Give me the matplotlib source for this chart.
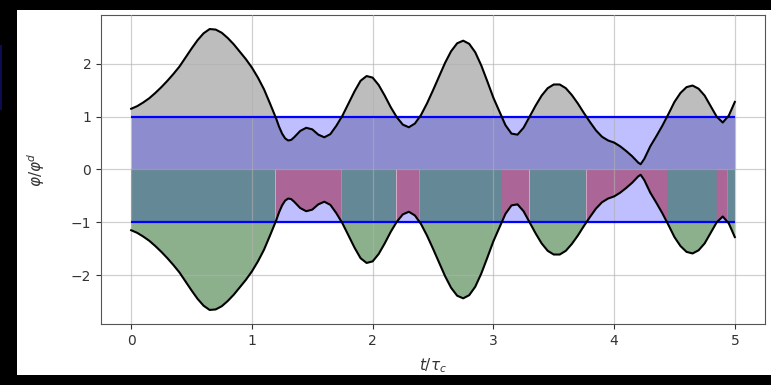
import numpy as np
import matplotlib
matplotlib.use("Agg")
import matplotlib.pyplot as plt
from matplotlib.patches import Rectangle

# ---- data ----
t = [0.00, 0.05, 0.10, 0.15, 0.20, 0.25, 0.30, 0.35, 0.40, 0.45,
     0.50, 0.55, 0.60, 0.65, 0.70, 0.75, 0.80, 0.85, 0.90, 0.95,
     1.00, 1.05, 1.10, 1.15, 1.20, 1.225, 1.25, 1.275, 1.30, 1.325,
     1.35, 1.40, 1.45,
     1.50, 1.55, 1.60, 1.65, 1.70, 1.75, 1.80, 1.85, 1.90, 1.95,
     2.00, 2.05, 2.10, 2.15, 2.20, 2.25, 2.30, 2.35, 2.40, 2.45,
     2.50, 2.55, 2.60, 2.65, 2.70, 2.75, 2.80, 2.85, 2.90, 2.95,
     3.00, 3.05, 3.10, 3.15, 3.20, 3.25, 3.30, 3.35, 3.40, 3.45,
     3.50, 3.55, 3.60, 3.65, 3.70, 3.75, 3.80, 3.85, 3.90, 3.95,
     4.00, 4.05, 4.10, 4.15, 4.20, 4.22, 4.25, 4.30, 4.35, 4.40,
     4.45, 4.50, 4.55, 4.60, 4.65, 4.70, 4.75, 4.80, 4.85, 4.90,
     4.95, 5.00]
phi = [1.15, 1.20, 1.27, 1.35, 1.45, 1.56, 1.68, 1.81, 1.95, 2.12,
       2.29, 2.45, 2.58, 2.66, 2.65, 2.59, 2.49, 2.37, 2.23, 2.09,
       1.93, 1.74, 1.52, 1.25, 0.97, 0.81, 0.68, 0.59, 0.55, 0.56,
       0.61, 0.73, 0.79,
       0.76, 0.66, 0.61, 0.67, 0.83, 1.02, 1.25, 1.48, 1.68, 1.77,
       1.74, 1.60, 1.40, 1.18, 0.99, 0.85, 0.80, 0.87, 1.03, 1.25,
       1.50, 1.76, 2.02, 2.24, 2.39, 2.44, 2.38, 2.22, 1.97, 1.67,
       1.36, 1.10, 0.84, 0.68, 0.66, 0.79, 1.00, 1.21, 1.40, 1.54,
       1.61, 1.61, 1.54, 1.41, 1.25, 1.07, 0.90, 0.74, 0.62, 0.55,
       0.51, 0.44, 0.35, 0.25, 0.13, 0.10, 0.20, 0.44, 0.63, 0.83,
       1.05, 1.28, 1.45, 1.56, 1.59, 1.53, 1.40, 1.20, 1.00, 0.89,
       1.02, 1.28]
threshold = 1.0
x_ticks = [0, 1, 2, 3, 4, 5]
y_ticks = [-2, -1, 0, 1, 2]

# ---- colours ----
c_gray = '#bdbdbd'
c_dark = '#8c8cce'
c_lav = '#bfbfff'
c_teal = '#658896'
c_green = '#8db08c'
c_mag = '#ab6697'

# insert exact threshold crossings so region edges are sharp
ta, pa = [t[0]], [phi[0]]
for i in range(1, len(t)):
    p0, p1 = phi[i - 1] - threshold, phi[i] - threshold
    if p0 * p1 < 0:
        tc = t[i - 1] + (-p0) * (t[i] - t[i - 1]) / (p1 - p0)
        ta.append(tc)
        pa.append(threshold)
    ta.append(t[i])
    pa.append(phi[i])
ta = np.array(ta)
pa = np.array(pa)
above = pa >= threshold
below = pa <= threshold

fig = plt.figure(figsize=(7.71, 3.85), dpi=100)
fig.patch.set_facecolor('black')
fig.patches.append(Rectangle((17 / 771, 10 / 385), 1 - 17 / 771, (375 - 10) / 385,
                             transform=fig.transFigure, facecolor='white',
                             edgecolor='none', zorder=-10))
fig.patches.append(Rectangle((0, (385 - 110) / 385), 2 / 771, 65 / 385,
                             transform=fig.transFigure, facecolor='#0c0c55',
                             edgecolor='none', zorder=-10))

ax = fig.add_axes([101 / 771, 1 - 324 / 385, (765 - 101) / 771, (324 - 15) / 385])
ax.set_facecolor('white')

pm = np.minimum(pa, threshold)
ax.fill_between(ta, threshold, pa, where=above, color=c_gray, lw=0, zorder=1)
ax.fill_between(ta, 0, pm, color=c_dark, lw=0, zorder=1)
ax.fill_between(ta, pm, threshold, color=c_lav, lw=0, zorder=1)
ax.fill_between(ta, -threshold, 0, where=above, color=c_teal, lw=0, zorder=1)
ax.fill_between(ta, -pa, -threshold, where=above, color=c_green, lw=0, zorder=1)
ax.fill_between(ta, -pa, 0, where=below, color=c_mag, lw=0, zorder=1)
ax.fill_between(ta, -threshold, -pa, where=below, color=c_lav, lw=0, zorder=1)

ax.hlines([threshold, -threshold], t[0], t[-1], colors='blue', lw=1.6, zorder=3)
ax.plot(t, phi, color='black', lw=1.5, zorder=4, solid_joinstyle='round')
ax.plot(t, [-p for p in phi], color='black', lw=1.5, zorder=4, solid_joinstyle='round')

ax.set_axisbelow(False)
ax.grid(True, color='#b0b0b0', lw=0.9, alpha=0.6, zorder=2)
ax.set_xticks(x_ticks)
ax.set_yticks(y_ticks)
ax.margins(x=0.05, y=0.05)
ax.tick_params(labelsize=10, colors='#333333')
for s in ax.spines.values():
    s.set_color('#555555')

ax.set_xlabel(r'$t/\tau_c$', fontsize=11, color='#333333')
ax.set_ylabel(r'$\varphi/\varphi^d$', fontsize=11, color='#333333')
ax.xaxis.set_label_coords(0.5, -0.105)
ax.yaxis.set_label_coords(-0.082, 0.5)

fig.savefig('out.png', dpi=100, facecolor=fig.get_facecolor())
